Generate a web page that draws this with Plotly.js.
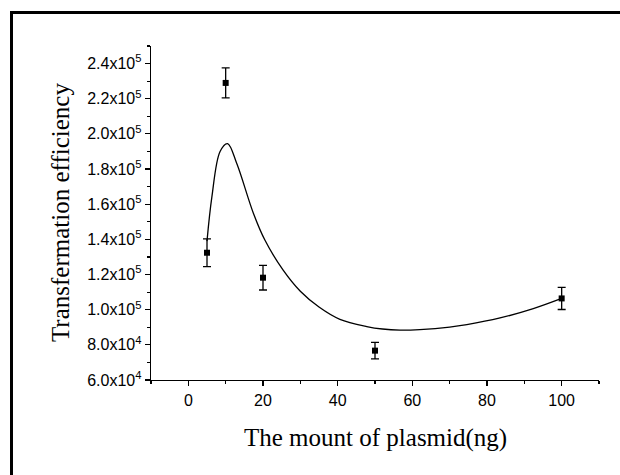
<!DOCTYPE html>
<html>
<head>
<meta charset="utf-8">
<script src="https://cdn.plot.ly/plotly-3.0.1.min.js"></script>
<style>
html,body{margin:0;padding:0;background:#fff;}
#wrap{position:relative;width:620px;height:475px;overflow:hidden;}
#chart{position:absolute;left:0;top:0;width:620px;height:475px;}
#frame{position:absolute;left:10px;top:11px;width:700px;height:600px;border-left:3px solid #000;border-top:3px solid #000;pointer-events:none;}
</style>
</head>
<body>
<div id="wrap"><div id="chart"></div><div id="frame"></div></div>
<script>
// measured data points
const plasmidNg = [5, 10, 20, 50, 100];
const efficiency = [132400, 229000, 118200, 76700, 106400];
const efficiencyErr = [7900, 8500, 7000, 4700, 6300];

// fitted curve
const curveX = [5, 6.3, 8.5, 10.5, 13, 17.4, 20.5, 25.4, 30, 35, 40.6, 47.8, 52, 56.7, 62, 70, 74.6, 83.5, 92.4, 100];
const curveY = [139000, 164000, 190000, 194500, 183000, 155000, 139600, 122500, 110500, 101500, 94500, 90400, 89000, 88400, 88700, 90100, 91500, 95300, 100600, 106400];

// tick labels
const yTickVals = [60000, 80000, 100000, 120000, 140000, 160000, 180000, 200000, 220000, 240000];
const yTickText = ['6.0x10<sup>4</sup>', '8.0x10<sup>4</sup>', '1.0x10<sup>5</sup>', '1.2x10<sup>5</sup>', '1.4x10<sup>5</sup>', '1.6x10<sup>5</sup>', '1.8x10<sup>5</sup>', '2.0x10<sup>5</sup>', '2.2x10<sup>5</sup>', '2.4x10<sup>5</sup>'];
const xTickVals = [0, 20, 40, 60, 80, 100];
const xTickText = ['0', '20', '40', '60', '80', '100'];
const xTitle = 'The mount of plasmid(ng)';
const yTitle = 'Transfermation efficiency';

const traces = [
  {
    x: curveX, y: curveY, type: 'scatter', mode: 'lines',
    line: {color: '#000', width: 1.3, shape: 'spline', smoothing: 1},
    hoverinfo: 'skip', showlegend: false
  },
  {
    x: plasmidNg, y: efficiency, type: 'scatter', mode: 'markers',
    marker: {symbol: 'square', size: 6, color: '#000'},
    error_y: {type: 'data', array: efficiencyErr, visible: true, color: '#000', thickness: 1.3, width: 4},
    showlegend: false
  }
];

const tickFont = {family: 'Liberation Sans, Arial, sans-serif', size: 16, color: '#000'};
const serif = 'Liberation Serif, Times New Roman, serif';

const layout = {
  width: 620, height: 475,
  margin: {l: 151, r: 21, t: 46, b: 95, pad: 0},
  paper_bgcolor: '#fff', plot_bgcolor: '#fff',
  showlegend: false,
  xaxis: {
    range: [-10, 110], showgrid: false, zeroline: false,
    showline: true, linecolor: '#000', linewidth: 1.3,
    ticks: 'outside', ticklen: 5, tickwidth: 1.2, tickcolor: '#000',
    tickmode: 'array', tickvals: xTickVals, ticktext: xTickText,
    tickfont: tickFont,
    minor: {ticks: 'outside', ticklen: 3, tickwidth: 1.2, tickcolor: '#000', tickvals: [-10, 10, 30, 50, 70, 90, 110], showgrid: false},
    automargin: false
  },
  yaxis: {
    range: [60000, 250000], showgrid: false, zeroline: false,
    showline: true, linecolor: '#000', linewidth: 1.3,
    ticks: 'outside', ticklen: 5, tickwidth: 1.2, tickcolor: '#000',
    tickmode: 'array', tickvals: yTickVals, ticktext: yTickText,
    tickfont: tickFont,
    minor: {ticks: 'outside', ticklen: 3, tickwidth: 1.2, tickcolor: '#000', dtick: 10000, tick0: 0, showgrid: false},
    automargin: false
  },
  annotations: [
    {text: xTitle, xref: 'paper', yref: 'paper', x: 0.5, y: -0.174, xanchor: 'center', yanchor: 'middle',
     showarrow: false, font: {family: serif, size: 25, color: '#000'}},
    {text: yTitle, xref: 'paper', yref: 'paper', x: -0.203, y: 0.5, xanchor: 'center', yanchor: 'middle',
     textangle: -90, showarrow: false, font: {family: serif, size: 25, color: '#000'}}
  ]
};

Plotly.newPlot('chart', traces, layout, {displayModeBar: false, staticPlot: true});
</script>
</body>
</html>
